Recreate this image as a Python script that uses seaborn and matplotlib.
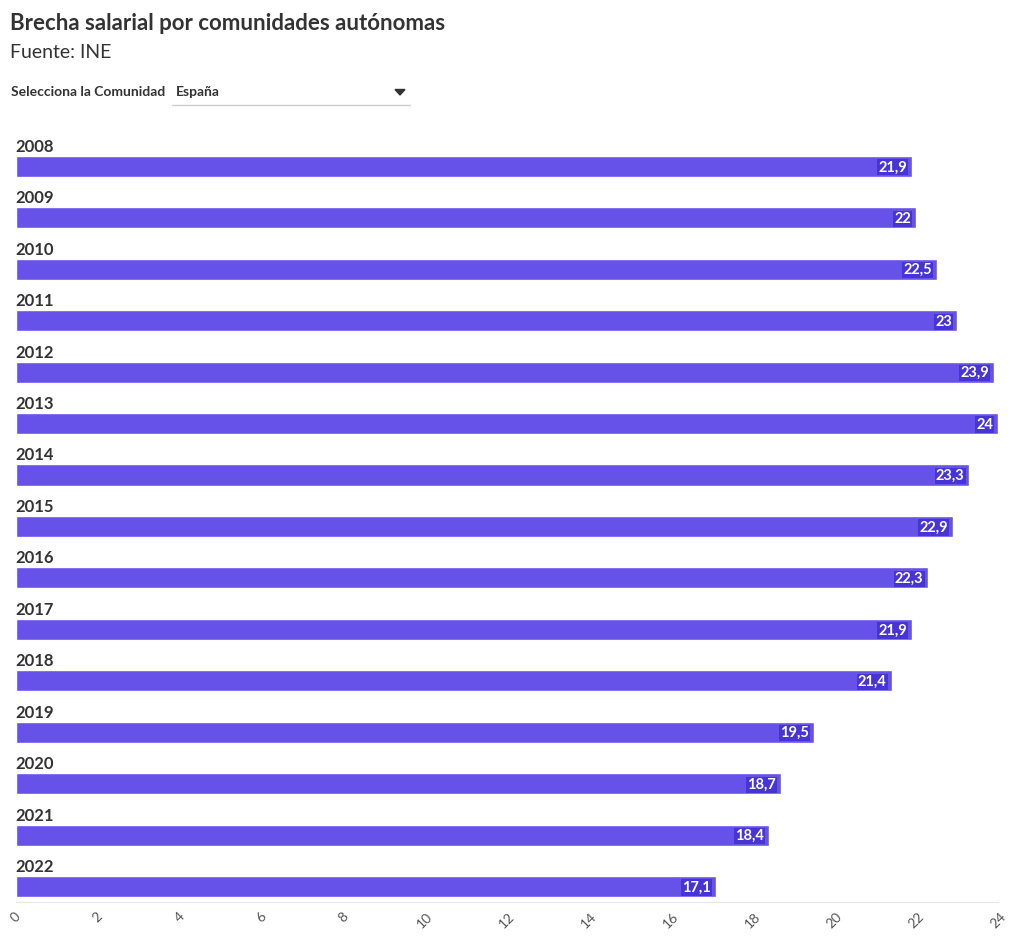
import matplotlib
matplotlib.use("Agg")
import matplotlib.pyplot as plt
import seaborn as sns
import pandas as pd

# Brecha salarial (España), fuente INE
years = ["2008", "2009", "2010", "2011", "2012", "2013", "2014", "2015",
         "2016", "2017", "2018", "2019", "2020", "2021", "2022"]
values = [21.9, 22.0, 22.5, 23.0, 23.9, 24.0, 23.3, 22.9,
          22.3, 21.9, 21.4, 19.5, 18.7, 18.4, 17.1]
x_ticks = list(range(0, 25, 2))

df = pd.DataFrame({"year": years, "brecha": values})

sns.set_style("white")
plt.rcParams["font.family"] = ["Lato", "DejaVu Sans"]

bar_color = "#6652E8"
halo_color = "#4634D6"
text_color = "#333333"

fig = plt.figure(figsize=(10.2, 9.46), dpi=100)
ax = fig.add_axes([16 / 1020, 1 - 902 / 946, (998 - 16) / 1020, (902 - 120) / 946])

sns.barplot(data=df, x="brecha", y="year", orient="h", color=bar_color,
            width=0.41, saturation=1, ax=ax)

ax.set_xlim(0, 24)
ax.set_ylim(14.3, -0.9)
ax.set_xticks(x_ticks)
ax.set_xticklabels([str(t) for t in x_ticks], rotation=45, fontsize=10,
                   color="#555555")
ax.set_yticks([])
ax.set_xlabel("")
ax.set_ylabel("")
for side in ["top", "right", "left"]:
    ax.spines[side].set_visible(False)
ax.spines["bottom"].set_color("#e6e6e6")
ax.tick_params(axis="x", length=4, color="#e6e6e6", pad=2)

for i, (y, v) in enumerate(zip(years, values)):
    ax.text(-0.02, i - 0.38, y, fontsize=12, fontweight="bold", color=text_color,
            ha="left", va="center")
    label = f"{v:g}".replace(".", ",")
    ax.text(v - 0.12, i + 0.02, label, fontsize=10.5, fontweight="bold",
            color="white", ha="right", va="center",
            bbox=dict(boxstyle="square,pad=0.08", fc=halo_color, ec="none"))

# header
fig.text(10 / 1020, 1 - 24 / 946, "Brecha salarial por comunidades autónomas",
         fontsize=16, fontweight="bold", color=text_color, va="center")
fig.text(10 / 1020, 1 - 52 / 946, "Fuente: INE", fontsize=14,
         color=text_color, va="center")
fig.text(11 / 1020, 1 - 92 / 946, "Selecciona la Comunidad", fontsize=10,
         fontweight="bold", color=text_color, va="center")
fig.text(176 / 1020, 1 - 92 / 946, "España", fontsize=10, fontweight="bold",
         color=text_color, va="center")
fig.add_artist(plt.Line2D([172 / 1020, 410 / 1020], [1 - 105 / 946, 1 - 105 / 946],
                          color="#cccccc", lw=1))
fig.add_artist(plt.Polygon([[395 / 1020, 1 - 89.5 / 946], [405 / 1020, 1 - 89.5 / 946],
                            [400 / 1020, 1 - 95 / 946]], closed=True,
                           color=text_color))

fig.savefig("out.png", dpi=100)
